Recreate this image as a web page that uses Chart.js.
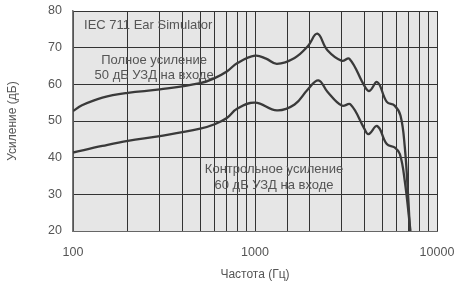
<!DOCTYPE html>
<html><head><meta charset="utf-8">
<script src="https://cdn.jsdelivr.net/npm/chart.js@4/dist/chart.umd.min.js"></script>
<style>html,body{margin:0;padding:0;background:#fff}</style>
</head><body>
<canvas id="c" width="457" height="285"></canvas>
<script>
// Full-on gain, 50 dB SPL input
const fullFreq = [100, 112, 145, 200, 300, 500, 600, 700, 800, 1000, 1150, 1320, 1650, 1950, 2200, 2500, 3000, 3300, 4000, 4250, 4700, 5300, 5850, 6300, 6650, 6950, 7100];
const fullGain = [52.7, 54.3, 56.4, 57.7, 58.6, 60.3, 61.7, 63.5, 65.8, 67.8, 67.0, 65.6, 67.2, 70.4, 73.8, 69.3, 66.4, 67.0, 59.5, 58.2, 60.6, 55.2, 54.2, 51.5, 43, 29, 20];
// Reference test gain, 60 dB SPL input
const ctrlFreq = [100, 145, 200, 300, 500, 600, 700, 800, 1000, 1320, 1650, 1950, 2230, 2500, 3000, 3350, 4000, 4200, 4700, 5300, 5850, 6250, 6650, 7150];
const ctrlGain = [41.4, 43.2, 44.6, 45.9, 47.9, 49.1, 50.8, 53.4, 55.0, 52.9, 54.5, 58.6, 61.1, 58.0, 54.2, 54.5, 47.8, 46.4, 48.6, 43.7, 42.8, 41.0, 33.7, 20];
const xTickLabels = [100, 1000, 10000];
const yTickLabels = [20, 30, 40, 50, 60, 70, 80];
const xTitle = 'Частота (Гц)';
const yTitle = 'Усиление (дБ)';
const notes = [
  {text: 'IEC 711 Ear Simulator', f: 115, v: 76.2, align: 'left'},
  {text: 'Полное усиление', f: 279, v: 66.6, align: 'center'},
  {text: '50 дБ УЗД на входе', f: 279, v: 62.4, align: 'center'},
  {text: 'Контрольное усиление', f: 1272, v: 36.9, align: 'center'},
  {text: '60 дБ УЗД на входе', f: 1272, v: 32.4, align: 'center'}
];

const FONT = 'Liberation Sans, Arial, sans-serif';
const toPts = (xs, ys) => xs.map((x, i) => ({x: x, y: ys[i]}));

const bgPlugin = {
  id: 'bg',
  beforeDraw(chart) {
    const {ctx, chartArea: a} = chart;
    ctx.save();
    ctx.fillStyle = '#e6e6e6';
    ctx.fillRect(a.left, a.top, a.right - a.left, a.bottom - a.top);
    ctx.restore();
  },
  beforeDatasetsDraw(chart) {
    const {ctx, scales} = chart;
    ctx.save();
    ctx.font = '13px ' + FONT;
    ctx.fillStyle = '#555';
    ctx.textBaseline = 'middle';
    notes.forEach(n => {
      ctx.textAlign = n.align;
      ctx.fillText(n.text, scales.x.getPixelForValue(n.f), scales.y.getPixelForValue(n.v));
    });
    ctx.restore();
  }
};

new Chart(document.getElementById('c'), {
  type: 'line',
  data: {
    datasets: [
      {data: toPts(fullFreq, fullGain), borderColor: '#3a3a3a', borderWidth: 2.3, pointRadius: 0, tension: 0.4, fill: false},
      {data: toPts(ctrlFreq, ctrlGain), borderColor: '#3a3a3a', borderWidth: 2.3, pointRadius: 0, tension: 0.4, fill: false}
    ]
  },
  options: {
    responsive: false,
    devicePixelRatio: 1,
    animation: false,
    layout: {padding: {top: 11, right: 20, bottom: 0, left: 0}},
    plugins: {legend: {display: false}, tooltip: {enabled: false}},
    scales: {
      x: {
        type: 'logarithmic', min: 100, max: 10000,
        afterFit(s) { s.height = 54; s.paddingLeft = 0; s.paddingRight = 0; },
        grid: {color: '#333', lineWidth: 1, drawTicks: false},
        border: {color: '#666', width: 1},
        ticks: {
          autoSkip: false, maxRotation: 0, padding: 14, color: '#555',
          font: {family: FONT, size: 12.5},
          callback: (v) => xTickLabels.includes(v) ? String(v) : ''
        },
        title: {display: true, text: xTitle, color: '#555', font: {family: FONT, size: 12}, padding: {top: 0, bottom: 3}}
      },
      y: {
        min: 20, max: 80,
        afterFit(s) { s.width = 73; s.paddingTop = 0; s.paddingBottom = 0; },
        afterBuildTicks(s) { s.ticks = yTickLabels.map(v => ({value: v})); },
        grid: {color: '#333', lineWidth: 1, drawTicks: false},
        border: {color: '#777', width: 1.5},
        ticks: {padding: 11, color: '#555', font: {family: FONT, size: 12.5}},
        title: {display: true, text: yTitle, color: '#555', font: {family: FONT, size: 12}, padding: {top: 5, bottom: 0}}
      }
    }
  },
  plugins: [bgPlugin]
});
</script>
</body></html>
